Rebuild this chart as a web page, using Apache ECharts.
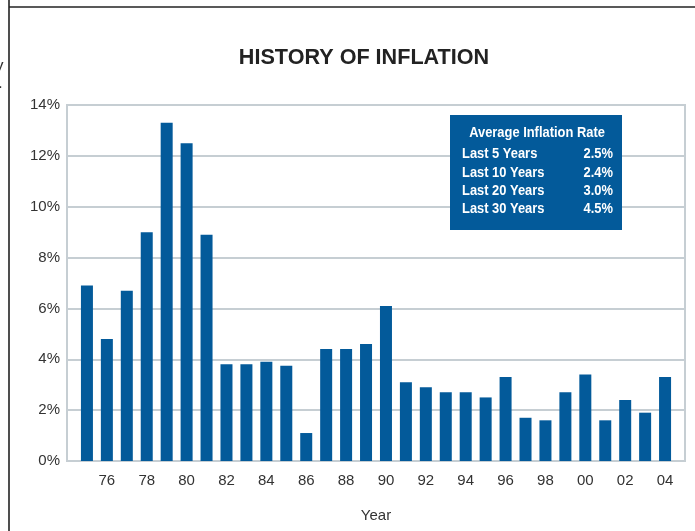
<!DOCTYPE html>
<html>
<head>
<meta charset="utf-8">
<script src="https://cdn.jsdelivr.net/npm/echarts@6/dist/echarts.min.js"></script>
<style>
html,body{margin:0;padding:0;background:#fff;}
#chart{width:695px;height:531px;}
</style>
</head>
<body>
<div id="chart"></div>
<script>
const years = [1975,1976,1977,1978,1979,1980,1981,1982,1983,1984,1985,1986,1987,1988,1989,1990,1991,1992,1993,1994,1995,1996,1997,1998,1999,2000,2001,2002,2003,2004];
const inflation = [6.9,4.8,6.7,9.0,13.3,12.5,8.9,3.8,3.8,3.9,3.75,1.1,4.4,4.4,4.6,6.1,3.1,2.9,2.7,2.7,2.5,3.3,1.7,1.6,2.7,3.4,1.6,2.4,1.9,3.3];
const xTickYears = [1976,1978,1980,1982,1984,1986,1988,1990,1992,1994,1996,1998,2000,2002,2004];
const xTickLabels = ['76','78','80','82','84','86','88','90','92','94','96','98','00','02','04'];
const boxTitle = 'Average Inflation Rate';
const boxRows = ['Last 5 Years','Last 10 Years','Last 20 Years','Last 30 Years'];
const boxValues = ['2.5%','2.4%','3.0%','4.5%'];

const blue = '#035a9a';
const gridGray = '#c6ced3';
const boxFont = '"Liberation Sans",Arial,sans-serif';
const sx = 0.86;

const chart = echarts.init(document.getElementById('chart'));

const graphics = [
  {type:'line', shape:{x1:9,y1:0,x2:9,y2:531}, style:{stroke:'#222',lineWidth:1.6}, z:10},
  {type:'line', shape:{x1:9,y1:7,x2:695,y2:7}, style:{stroke:'#222',lineWidth:1.6}, z:10},
  {type:'text', x:-5, y:58, style:{text:'y', fontSize:17, fill:'#333', fontFamily:'"Liberation Sans",Arial,sans-serif'}},
  {type:'text', x:-2, y:75, style:{text:'.', fontSize:17, fill:'#333', fontFamily:'"Liberation Sans",Arial,sans-serif'}},
  {type:'rect', shape:{x:450,y:115,width:172,height:115}, style:{fill:blue}, z:20},
  {type:'text', x:537, y:133, scaleX:sx, z:21, style:{text:boxTitle, fill:'#fff', fontSize:15, fontWeight:'bold', fontFamily:boxFont, align:'center', verticalAlign:'middle'}}
];
boxRows.forEach((r,i)=>{
  graphics.push({type:'text', x:462, y:154+i*18.4, scaleX:sx, z:21, style:{text:r, fill:'#fff', fontSize:15, fontWeight:'bold', fontFamily:boxFont, align:'left', verticalAlign:'middle'}});
  graphics.push({type:'text', x:613, y:154+i*18.4, scaleX:sx, z:21, style:{text:boxValues[i], fill:'#fff', fontSize:15, fontWeight:'bold', fontFamily:boxFont, align:'right', verticalAlign:'middle'}});
});

chart.setOption({
  animation:false,
  backgroundColor:'#fff',
  title:{
    text:'HISTORY OF INFLATION',
    left:359, top:42, textAlign:'center',
    textStyle:{fontSize:21.6, fontWeight:'bold', color:'#222', fontFamily:'"Liberation Sans",Arial,sans-serif'}
  },
  grid:{left:67, right:10, top:105, bottom:70, show:true, borderColor:gridGray, borderWidth:2, containLabel:false},
  xAxis:{
    type:'value', min:1974, max:2005, interval:2,
    axisLine:{show:true, lineStyle:{color:gridGray, width:2}},
    axisTick:{show:false},
    splitLine:{show:false},
    axisLabel:{
      color:'#333', fontSize:15, margin:12, fontFamily:'"Liberation Sans",Arial,sans-serif',
      showMinLabel:true, showMaxLabel:false,
      formatter:(v)=>{const i=xTickYears.indexOf(Math.round(v)); return i>=0?xTickLabels[i]:'';}
    },
    name:'Year', nameLocation:'middle', nameGap:47,
    nameTextStyle:{color:'#333', fontSize:15, fontFamily:'"Liberation Sans",Arial,sans-serif'}
  },
  yAxis:{
    type:'value', min:0, max:14, interval:2,
    axisLine:{show:true, lineStyle:{color:gridGray, width:2}},
    axisTick:{show:false},
    splitLine:{show:true, lineStyle:{color:gridGray, width:2}},
    axisLabel:{color:'#333', fontSize:15, margin:7, formatter:'{value}%', fontFamily:'"Liberation Sans",Arial,sans-serif'}
  },
  series:[{
    type:'bar',
    barWidth:12,
    itemStyle:{color:blue},
    data: years.map((y,i)=>[y, inflation[i]]),
    z:5
  }],
  graphic: graphics
});
</script>
</body>
</html>
